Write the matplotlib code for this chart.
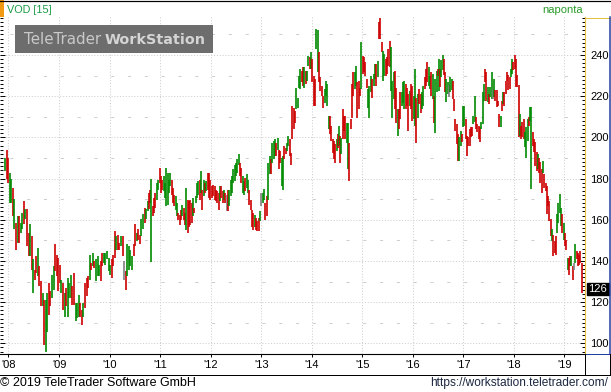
import numpy as np
import pandas as pd
import matplotlib
matplotlib.use("Agg")
import matplotlib.pyplot as plt
import matplotlib.dates as mdates
import matplotlib.transforms as mtransforms
from matplotlib.ticker import MultipleLocator
from matplotlib.patches import Rectangle
from matplotlib.lines import Line2D

plt.rcParams['lines.scale_dashes'] = False

# ---------------- data (price bars) ----------------
span_a = ("2007-12-07", "2010-10-15")
highs_a = [190.2,193.8,190.2,182.9,179.7,175.6,169.9,158.5,161.8,161.8,
           158.5,163.4,169.1,165.0,165.0,153.7,157.7,152.0,140.7,135.8,
           142.3,146.3,137.4,130.1,124.4,121.1,121.1,124.4,129.3,125.2,
           133.3,137.4,148.0,143.1,141.5,138.2,130.9,129.3,124.4,126.8,
           131.7,129.3,133.3,127.6,134.1,119.5,119.5,123.6,119.5,116.3,
           119.5,129.3,131.7,132.5,143.1,139.0,143.9,139.8,140.7,142.3,
           138.2,139.8,143.9,143.9,143.9,144.7,141.5,138.2,140.7,143.1,
           154.5,152.0,152.8,148.8,152.0,152.0,139.8,135.0,148.0,147.2,
           145.5,142.3,148.0,157.7,153.7,155.3,152.8,160.2,162.6,165.9,
           165.0,169.1,173.2]
lows_a = [183.7,179.7,178.0,168.3,168.3,161.8,155.3,145.5,148.8,148.8,
          153.7,155.3,157.7,160.2,147.2,142.3,142.3,135.8,124.4,130.9,
          134.1,132.5,127.6,117.9,117.9,99.2,95.9,105.7,113.8,118.0,
          122.0,126.0,135.0,132.5,125.2,129.3,124.4,116.3,113.0,117.9,
          113.0,122.0,122.0,118.7,118.7,110.6,112.2,113.0,113.0,108.9,
          113.0,117.1,122.8,126.8,130.9,135.8,137.4,136.6,130.1,132.5,
          132.5,130.1,137.4,139.0,138.2,140.7,135.0,133.3,131.7,137.4,
          141.5,145.5,145.5,145.5,147.2,142.3,130.9,126.0,132.5,135.8,
          137.4,135.8,142.3,147.2,149.6,150.4,148.0,152.0,155.3,158.5,
          160.2,164.2,165.0]
dirs_a = ("udduududud" "uududdudud" "dudduduudd" "uuddddudud" "uuudduuudd"
          "udddududuu" "udduuuuudd" "duddudnduu" "uuddudduud" "uud")

span_b = ("2010-10-21", "2014-07-19")
highs_b = [174.6,180.0,166.5,170.6,173.0,177.9,179.5,185.2,181.1,179.5,
           181.1,177.9,185.2,182.8,179.5,182.8,179.5,175.4,172.2,171.4,
           168.1,163.3,162.4,164.9,167.3,165.7,163.3,175.4,169.8,168.9,
           169.8,168.1,170.6,165.7,171.4,177.9,178.7,179.5,183.9,174.6,
           179.5,177.9,178.7,182.8,182.8,179.5,176.3,177.1,176.3,174.6,
           173.8,173.0,176.3,176.3,173.8,174.6,173.0,172.2,174.6,174.6,
           179.5,181.1,184.4,186.8,187.6,189.3,192.0,187.6,185.2,181.1,
           178.7,180.3,182.0,179.5,174.6,169.8,164.9,163.3,162.4,160.8,
           159.2,160.8,164.1,173.0,173.0,175.0,168.1,171.4,187.6,190.9,
           189.3,197.4,198.2,199.0,197.4,199.8,194.1,193.3,190.1,190.9,
           195.8,195.0,197.4,200.7,199.0,192.5,215.3,214.5,212.8,224.2,
           219.3,229.9,233.2,232.4,234.0,234.0,232.4,232.4,239.7,238.9,
           241.3,238.0,229.9,228.3,252.7,251.9,241.3,229.1,225.0,220.2,
           223.4,227.5,225.9,210.4,210.4,205.5,199.0,198.2,196.6,199.0,
           201.5,205.5]
lows_b = [168.1,139.7,161.6,163.3,165.7,169.8,174.6,177.9,173.0,174.6,
          173.8,170.6,166.5,167.3,173.0,176.3,172.2,168.1,166.5,164.9,
          161.6,160.0,157.6,160.0,161.6,160.0,157.6,155.1,153.5,156.7,
          157.6,158.4,161.6,163.3,168.1,170.6,172.2,169.8,173.0,164.9,
          171.4,173.0,173.8,174.6,170.6,169.8,170.6,171.4,169.8,168.9,
          168.1,164.9,168.9,170.6,168.1,169.8,168.1,164.1,164.1,166.5,
          171.4,173.0,177.9,178.7,181.1,182.8,186.8,181.1,177.9,173.0,
          172.2,173.8,175.4,173.0,167.3,164.9,156.7,155.1,156.7,155.1,
          154.3,154.3,159.2,166.5,168.1,169.8,160.0,161.6,169.8,182.0,
          182.0,187.6,189.3,190.9,190.9,194.1,184.4,187.6,176.3,174.6,
          189.3,191.7,193.3,195.8,190.9,186.8,199.0,203.9,207.2,213.7,
          214.5,224.2,223.4,226.7,225.0,224.2,225.9,227.5,234.8,233.2,
          233.2,226.7,215.3,215.3,242.9,231.5,226.7,222.6,220.2,214.5,
          216.9,220.2,215.3,203.9,201.5,198.2,192.5,189.3,187.6,193.3,
          195.0,195.8]
dirs_b = ("duddduuddd" "uuuuuudddu" "uddduddudd" "dduduuudud" "ududdddddd"
          "dduddudndu" "uuuuuuuddu" "uduuddddud" "ddunuudduu" "duuududduu"
          "dduudddddu" "uuudduduud" "uddduudddd" "uuuudddddu" "du")

span_c = ("2014-07-24", "2016-07-11")
highs_c = [200.7,199.8,213.7,210.4,210.4,207.2,207.2,197.4,208.8,225.9,
           231.5,231.5,234.8,226.7,227.5,224.2,246.2,239.7,238.9,236.4,
           228.3,223.4,225.0,229.9,228.3,230.7,235.6,235.6,237.2,255.9,
           258.0,246.2,242.1,240.5,238.0,238.9,242.9,247.0,243.7,227.5,
           231.5,232.4,224.2,213.7,213.7,221.8,221.8,226.7,227.5,225.9,
           224.2,221.0,222.6,225.9,225.0,220.2,233.2,219.3,221.0,223.4,
           221.0,221.8,225.0,229.1,233.2,236.4,234.0,229.9,231.5,230.7,
           220.2,228.3,232.4,233.2,238.0]
lows_c = [187.6,191.7,199.0,203.1,199.0,197.4,184.4,178.7,203.9,209.6,
          220.2,223.4,225.0,209.6,213.7,220.2,223.4,230.7,231.5,229.9,
          224.2,214.5,209.6,221.8,219.3,225.0,228.3,225.0,229.1,247.8,
          247.8,241.3,227.5,229.9,229.9,230.7,234.8,234.0,222.6,209.6,
          218.5,213.7,207.2,200.7,203.9,208.8,215.3,216.9,213.7,213.7,
          215.3,203.1,215.3,213.7,208.0,208.8,205.5,197.4,209.6,216.1,
          212.0,213.7,215.3,223.4,225.0,226.7,225.0,223.4,220.2,218.5,
          207.2,202.3,221.8,229.9,222.6]
dirs_c = ("duddduuddd" "duuddduddd" "duuuduudud" "dduudddduu" "uddudduuud"
          "ddudduudud" "duuddduudu" "duudu")

span_d = ("2016-07-16", "2019-05-06")
highs_d = [233.3,237.4,239.8,238.2,231.7,228.5,226.8,225.2,229.3,228.5,
           227.6,218.7,208.9,206.5,201.6,200.0,203.3,201.6,215.4,215.4,
           208.9,200.8,200.0,204.1,204.9,204.9,210.6,220.3,209.8,206.5,
           205.7,204.9,207.3,222.0,226.0,233.3,231.7,224.4,221.1,224.4,
           231.7,223.6,228.5,222.8,222.8,217.9,211.4,210.6,217.9,222.0,
           222.0,227.6,231.7,230.1,229.3,233.3,238.2,236.6,239.8,238.2,
           230.1,225.2,211.4,205.7,207.3,208.9,202.4,204.9,208.9,209.8,
           214.6,214.6,202.4,199.2,197.6,192.7,191.9,190.2,187.8,184.6,
           188.6,182.1,178.0,176.4,171.5,169.1,160.2,155.3,152.8,149.6,
           152.0,162.6,168.3,172.4,165.9,162.6,158.5,153.7,150.4,141.5,
           141.5,142.3,142.3,137.4,139.0,148.0,144.7,143.9,143.1,144.7,
           139.0]
lows_d = [224.4,229.3,232.5,230.1,222.0,217.1,221.1,219.5,222.0,222.8,
          218.7,213.0,203.3,196.7,188.6,188.6,195.9,197.6,204.9,205.7,
          199.2,191.1,195.9,195.9,200.0,200.8,206.5,207.3,204.1,202.4,
          199.2,197.6,204.1,206.5,217.9,226.8,217.9,217.1,216.3,219.5,
          218.7,218.7,219.5,217.9,214.6,215.4,204.9,204.9,213.0,216.3,
          215.4,221.1,227.6,222.8,223.6,229.3,230.9,232.5,233.3,224.4,
          224.4,200.0,200.8,199.2,200.0,199.2,195.1,190.2,198.4,205.7,
          208.1,174.8,195.9,192.7,186.2,183.7,184.6,182.9,178.0,173.2,
          182.9,175.6,174.0,162.6,166.7,159.3,152.0,149.6,142.3,143.9,
          143.1,153.7,158.5,163.4,156.9,153.7,150.4,147.2,145.5,135.8,
          133.3,137.4,137.4,130.9,135.8,139.0,140.7,137.4,138.2,139.0,
          124.5]
dirs_d = ("duudduunuu" "ddddduuduu" "dddddduudd" "dduuuddudu" "unuddddudu"
          "ddddduuddd" "dduddduuud" "uudddduddd" "uddddddudd" "duuuududdu"
          "ddudnudddd" "d")

last_close = 126.4
year_ticks = list(range(2008, 2020))
x_range = ("2007-11-01", "2019-05-30")
y_range = (94.8, 258.45)
symbol = "VOD [15]"
period_label = "naponta"
copyright_text = "\u00a9 2019 TeleTrader Software GmbH"
url_text = "https://workstation.teletrader.com/"

segments = [(span_a, highs_a, lows_a, dirs_a),
            (span_b, highs_b, lows_b, dirs_b),
            (span_c, highs_c, lows_c, dirs_c),
            (span_d, highs_d, lows_d, dirs_d)]

# ---------------- figure ----------------
W, H = 611, 392
fig = plt.figure(figsize=(W / 100, H / 100), dpi=100)
fig.patch.set_facecolor("white")

ax = fig.add_axes([0 / W, (H - 354) / H, 585 / W, (354 - 17) / H])
ax.set_facecolor("white")
d2n = lambda s: mdates.date2num(pd.Timestamp(s))
ax.set_xlim(d2n(x_range[0]), d2n(x_range[1]))
ax.set_ylim(*y_range)

grid_c = "#cfcfcf"
for yr in year_ticks:
    ax.axvline(d2n(f"{yr}-01-01"), color=grid_c, lw=0.75,
               linestyle=(0, (0.75, 1.3)), zorder=1)
for v in range(100, 241, 20):
    ax.axhline(v, color=grid_c, lw=0.75, linestyle=(0, (0.75, 1.3)), zorder=1)
for v in range(110, 251, 20):
    ax.axhline(v, color=grid_c, lw=0.75, linestyle=(5.0, (2.2, 9.9)), zorder=1)

col_map = {"u": "#008a00", "d": "#cc0000", "n": "#808080"}
for span, hi, lo, dr in segments:
    xs = np.linspace(d2n(span[0]), d2n(span[1]), len(hi))
    cols = [col_map[c] for c in dr]
    ax.vlines(xs, lo, hi, colors=cols, linewidth=1.2, zorder=3)

# axes styling
for s in ("top", "left"):
    ax.spines[s].set_visible(False)
ax.spines["bottom"].set_color("black")
ax.spines["bottom"].set_linewidth(0.8)
ax.spines["right"].set_color("#e8c040")
ax.spines["right"].set_linewidth(0.8)

ax.yaxis.set_major_locator(MultipleLocator(20))
ax.yaxis.set_minor_locator(MultipleLocator(2))
ax.tick_params(axis="y", which="both", direction="in", left=True, right=True,
               labelleft=False, labelright=True, color="black", width=0.7)
ax.tick_params(axis="y", which="major", length=3.6, pad=3.6, labelsize=8)
ax.tick_params(axis="y", which="minor", length=2.2)
for lab in ax.get_yticklabels():
    lab.set_fontfamily("Liberation Sans")

ax.set_xticks([d2n(f"{y}-01-01") for y in year_ticks])
ax.set_xticklabels([f"'{y % 100:02d}" for y in year_ticks],
                   fontfamily="Liberation Sans", fontsize=8)
ax.tick_params(axis="x", which="major", direction="out", length=2.5,
               width=0.7, pad=1.8, color="black")
ax.xaxis.set_minor_locator(plt.NullLocator())

# last price marker
tr = mtransforms.blended_transform_factory(ax.transAxes, ax.transData)
ax.text(1.0 + 3.5 / 585, last_close, f"{last_close:.0f}", transform=tr,
        ha="left", va="center", color="white", fontsize=8,
        fontfamily="Liberation Sans", clip_on=False, zorder=10,
        bbox=dict(boxstyle="square,pad=0.12", fc="black", ec="black"))

# ---------------- overlay (frame, header, footer) ----------------
ov = fig.add_axes([0, 0, 1, 1], zorder=5)
ov.set_xlim(0, W)
ov.set_ylim(H, 0)
ov.axis("off")
ov.patch.set_alpha(0)

px = 0.72
ov.add_line(Line2D([0, W], [0.5, 0.5], color="black", lw=px * 1.2))
ov.add_patch(Rectangle((0, 0), 4, 17, fc="#f29a12", ec="none"))
ov.text(7, 9.5, symbol, ha="left", va="center", fontsize=7.8,
        color="#199a45", fontfamily="Liberation Sans")
ov.text(583, 10, period_label, ha="right", va="center", fontsize=8,
        color="#2a9a2a", fontfamily="Liberation Sans")

# watermark
ov.add_patch(Rectangle((15, 25), 198, 28, fc="#6d6d6d", ec="none"))
ov.text(24, 39.5, "TeleTrader", ha="left", va="center", fontsize=10.8,
        color="#c9c9c9", fontfamily="DejaVu Sans")
ov.text(105, 39.5, "WorkStation", ha="left", va="center", fontsize=10.4,
        color="#d4d4d4", fontfamily="DejaVu Sans", fontweight="bold")

# right price panel frame
ov.add_line(Line2D([585, 610], [17.5, 17.5], color="#e8c040", lw=px))
ov.add_line(Line2D([609.8, 609.8], [17, 354], color="#1f3f9f", lw=px * 1.5))
ov.add_line(Line2D([585, 610], [353.5, 353.5], color="#1f3f9f", lw=px))

# x axis strip
ov.add_line(Line2D([0, W], [374.5, 374.5], color="black", lw=px))
ov.add_line(Line2D([584.5, 584.5], [354, 374.5], color="black", lw=px))
ov.add_line(Line2D([610.3, 610.3], [354, 374.5], color="black", lw=px))

# footer
ov.text(0, 383, copyright_text, ha="left", va="center", fontsize=9,
        color="black", fontfamily="Liberation Sans")
ov.text(608, 383, url_text, ha="right", va="center", fontsize=8.6,
        color="#1c2841", fontfamily="Liberation Sans")

fig.savefig("out.png", dpi=100, facecolor="white")
